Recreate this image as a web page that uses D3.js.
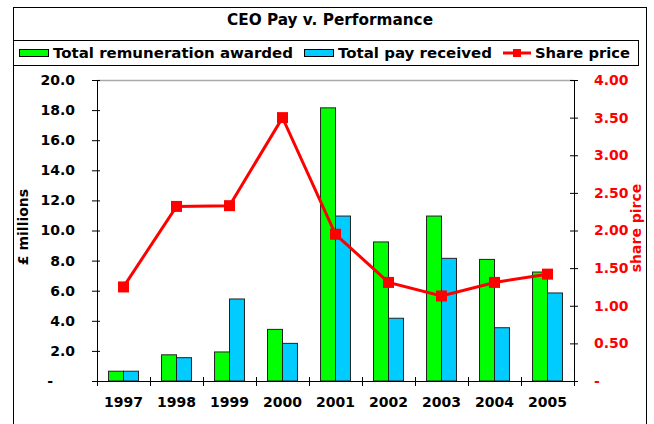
<!DOCTYPE html>
<html>
<head>
<meta charset="utf-8">
<script src="https://cdn.jsdelivr.net/npm/d3@7"></script>
<style>
  body { margin: 0; background: #fff; }
  text { font-family: "DejaVu Sans", Verdana, sans-serif; font-weight: bold; }
</style>
</head>
<body>
<div id="chart"></div>
<script>
// chart data
var years = ["1997", "1998", "1999", "2000", "2001", "2002", "2003", "2004", "2005"];
var remunerationAwarded = [0.65, 1.74, 1.93, 3.43, 18.15, 9.24, 10.96, 8.08, 7.24];
var payReceived = [0.65, 1.55, 5.45, 2.5, 10.96, 4.17, 8.15, 3.54, 5.85];
var sharePrice = [1.25, 2.32, 2.33, 3.50, 1.95, 1.31, 1.13, 1.31, 1.42];
var payTicks = [0, 2, 4, 6, 8, 10, 12, 14, 16, 18, 20];
var priceTicks = [0, 0.5, 1, 1.5, 2, 2.5, 3, 3.5, 4];

var width = 654, height = 424;
var plot = { left: 97, right: 574, top: 80, bottom: 381 };
var green = "#00ff00", blue = "#00ccff", red = "#ff0000";

var svg = d3.select("#chart").append("svg")
  .attr("width", width)
  .attr("height", height);

// outer frame + title
svg.append("rect")
  .attr("x", 13.5).attr("y", 7.5)
  .attr("width", 633).attr("height", 440)
  .attr("fill", "none").attr("stroke", "#000");

svg.append("text")
  .attr("x", 330).attr("y", 25)
  .attr("text-anchor", "middle")
  .style("font-size", "15px")
  .attr("textLength", 206).attr("lengthAdjust", "spacingAndGlyphs")
  .text("CEO Pay v. Performance");

// legend
var legend = svg.append("g");
legend.append("rect")
  .attr("x", 13.5).attr("y", 40.5)
  .attr("width", 625).attr("height", 25)
  .attr("fill", "#fff").attr("stroke", "#000");

legend.append("rect").attr("x", 19.5).attr("y", 49.5).attr("width", 29).attr("height", 7)
  .attr("fill", green).attr("stroke", "#000");
legend.append("text").attr("x", 53).attr("y", 58).style("font-size", "14px")
  .attr("textLength", 240).attr("lengthAdjust", "spacingAndGlyphs")
  .text("Total remuneration awarded");

legend.append("rect").attr("x", 304.5).attr("y", 49.5).attr("width", 29).attr("height", 7)
  .attr("fill", blue).attr("stroke", "#000");
legend.append("text").attr("x", 338).attr("y", 58).style("font-size", "14px")
  .attr("textLength", 154).attr("lengthAdjust", "spacingAndGlyphs")
  .text("Total pay received");

legend.append("line").attr("x1", 503).attr("x2", 531).attr("y1", 53).attr("y2", 53)
  .attr("stroke", red).attr("stroke-width", 3);
legend.append("rect").attr("x", 513).attr("y", 49).attr("width", 8).attr("height", 8)
  .attr("fill", red);
legend.append("text").attr("x", 535).attr("y", 58).style("font-size", "14px")
  .attr("textLength", 95).attr("lengthAdjust", "spacingAndGlyphs")
  .text("Share price");

// scales
var x0 = d3.scaleBand()
  .domain(years)
  .range([plot.left, plot.right])
  .paddingInner(0);

var x1 = d3.scaleBand()
  .domain(["awarded", "received"])
  .range([0, x0.bandwidth()])
  .paddingInner(0)
  .paddingOuter(0.77);

var xEdge = d3.scaleLinear()
  .domain([0, years.length])
  .range([plot.left, plot.right]);

var yPay = d3.scaleLinear()
  .domain([0, 20])
  .range([plot.bottom, plot.top]);

var yPrice = d3.scaleLinear()
  .domain([0, 4])
  .range([plot.bottom, plot.top]);

// top border of plot area
svg.append("line")
  .attr("x1", plot.left).attr("x2", plot.right)
  .attr("y1", plot.top + 0.5).attr("y2", plot.top + 0.5)
  .attr("stroke", "#aaa").attr("stroke-width", 1.5);

// bars
var groups = svg.selectAll(".year")
  .data(years)
  .enter().append("g")
  .attr("class", "year")
  .attr("transform", function (d) { return "translate(" + x0(d) + ",0)"; });

groups.append("rect")
  .attr("x", x1("awarded"))
  .attr("y", function (d, i) { return yPay(remunerationAwarded[i]); })
  .attr("width", x1.bandwidth())
  .attr("height", function (d, i) { return yPay(0) - yPay(remunerationAwarded[i]); })
  .attr("fill", green)
  .attr("stroke", "#222");

groups.append("rect")
  .attr("x", x1("received"))
  .attr("y", function (d, i) { return yPay(payReceived[i]); })
  .attr("width", x1.bandwidth())
  .attr("height", function (d, i) { return yPay(0) - yPay(payReceived[i]); })
  .attr("fill", blue)
  .attr("stroke", "#222");

// left axis
var leftAxis = svg.append("g")
  .attr("transform", "translate(" + plot.left + ",0)")
  .style("font-size", "14px")
  .call(d3.axisLeft(yPay)
    .tickValues(payTicks)
    .tickSize(5)
    .tickSizeOuter(0)
    .tickPadding(17)
    .tickFormat(function (d) { return d === 0 ? "-" : d3.format(".1f")(d); }));
leftAxis.selectAll(".tick line").attr("x1", 3);
leftAxis.selectAll(".tick text").attr("fill", "#000")
  .attr("x", function (d) { return d === 0 ? -44 : -22; });
leftAxis.select(".domain").attr("d", "M0.5," + plot.top + "V" + (plot.bottom + 5));

// right axis
var rightAxis = svg.append("g")
  .attr("transform", "translate(" + plot.right + ",0)")
  .style("font-size", "14px")
  .call(d3.axisRight(yPrice)
    .tickValues(priceTicks)
    .tickSize(4)
    .tickSizeOuter(0)
    .tickPadding(16)
    .tickFormat(function (d) { return d === 0 ? "-" : d3.format(".2f")(d); }));
rightAxis.selectAll(".tick line").attr("x1", -4);
rightAxis.selectAll(".tick text").attr("fill", red);
rightAxis.select(".domain").attr("d", "M0.5," + plot.top + "V" + (plot.bottom + 5));

// bottom axis: category boundary ticks + year labels
var edgeAxis = svg.append("g")
  .attr("transform", "translate(0," + plot.bottom + ")")
  .call(d3.axisBottom(xEdge)
    .tickValues(d3.range(0, years.length + 1))
    .tickSize(5)
    .tickSizeOuter(0)
    .tickFormat(""));
edgeAxis.selectAll(".tick line").attr("y1", -4);

var labelAxis = svg.append("g")
  .attr("transform", "translate(0," + plot.bottom + ")")
  .style("font-size", "14px")
  .call(d3.axisBottom(x0).tickSize(0).tickPadding(16));
labelAxis.select(".domain").remove();
labelAxis.selectAll(".tick text").attr("fill", "#000");

// axis titles
svg.append("text")
  .attr("transform", "translate(28,227) rotate(-90)")
  .attr("text-anchor", "middle")
  .style("font-size", "14px")
  .text("£ millions");

svg.append("text")
  .attr("transform", "translate(641,228) rotate(-90)")
  .attr("text-anchor", "middle")
  .attr("fill", red)
  .style("font-size", "14px")
  .text("share pirce");

// share price line
var line = d3.line()
  .x(function (d, i) { return x0(years[i]) + x0.bandwidth() / 2; })
  .y(function (d) { return yPrice(d); });

svg.append("path")
  .datum(sharePrice)
  .attr("d", line)
  .attr("fill", "none")
  .attr("stroke", red)
  .attr("stroke-width", 3);

svg.selectAll(".marker")
  .data(sharePrice)
  .enter().append("rect")
  .attr("class", "marker")
  .attr("x", function (d, i) { return x0(years[i]) + x0.bandwidth() / 2 - 5.5; })
  .attr("y", function (d) { return yPrice(d) - 5.5; })
  .attr("width", 11)
  .attr("height", 11)
  .attr("fill", red);
</script>
</body>
</html>
